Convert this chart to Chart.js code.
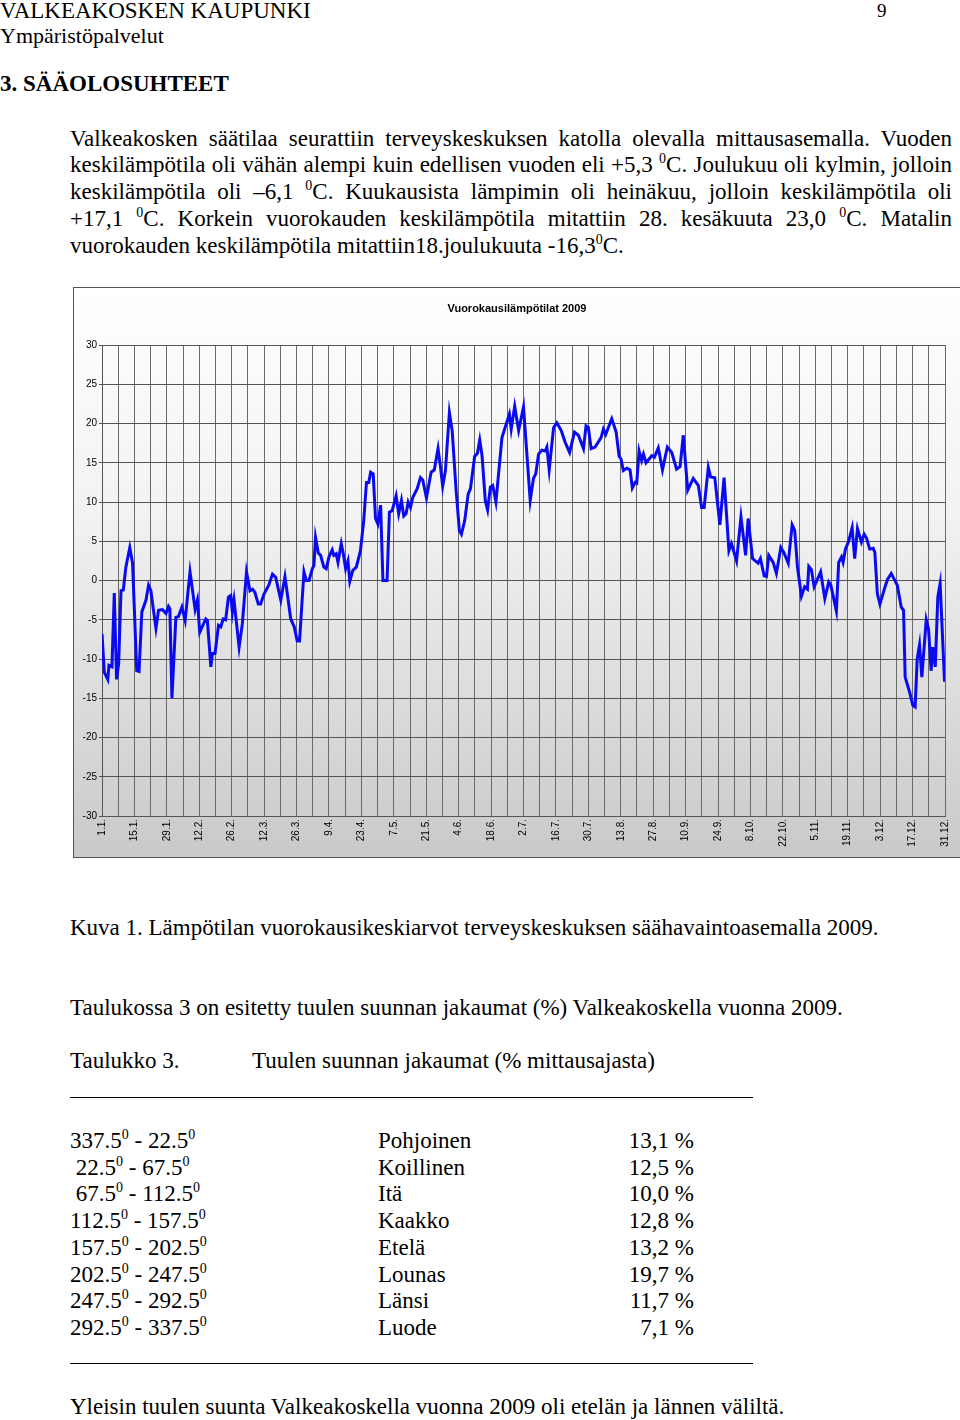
<!DOCTYPE html>
<html>
<head>
<meta charset="utf-8">
<script src="https://cdn.jsdelivr.net/npm/chart.js@4/dist/chart.umd.min.js"></script>
<style>
  body { margin: 0; width: 960px; height: 1420px; position: relative; background: #fff;
         font-family: "Liberation Serif", "Times New Roman", serif; font-size: 23px; color: #000; }
  .t { position: absolute; white-space: nowrap; line-height: 1; }
  sup { font-size: 14px; vertical-align: 9px; line-height: 0; }
  .pl { position: absolute; left: 70px; width: 882px; white-space: nowrap; line-height: 1; text-align: justify; text-align-last: justify; }
  #chartbox { position: absolute; left: 73px; top: 287px; width: 886px; height: 569px;
              border: 1px solid #555; background: linear-gradient(#ffffff 0%, #f2f2f2 40%, #c9c9c9 100%); }
  #ctitle { position: absolute; left: 0; width: 886px; top: 14px; text-align: center;
            font: bold 11px "Liberation Sans", Arial, sans-serif; }
  .rule { position: absolute; left: 70px; width: 683px; border-top: 1px solid #000; }
  .row span { position: absolute; }
</style>
</head>
<body>
<div class="t" style="left:0;top:-1px;font-size:23px">VALKEAKOSKEN KAUPUNKI</div>
<div class="t" style="left:877px;top:1px;font-size:19px">9</div>
<div class="t" style="left:0;top:25px;font-size:22px">Ympäristöpalvelut</div>
<div class="t" style="left:0;top:72px;font-size:23px;font-weight:bold">3. SÄÄOLOSUHTEET</div>

<div class="pl" style="top:127px">Valkeakosken säätilaa seurattiin terveyskeskuksen katolla olevalla mittausasemalla. Vuoden</div>
<div class="pl" style="top:153px">keskilämpötila oli vähän alempi kuin edellisen vuoden eli +5,3 <sup>0</sup>C. Joulukuu oli kylmin, jolloin</div>
<div class="pl" style="top:180px">keskilämpötila oli –6,1 <sup>0</sup>C. Kuukausista lämpimin oli heinäkuu, jolloin keskilämpötila oli</div>
<div class="pl" style="top:207px">+17,1 <sup>0</sup>C. Korkein vuorokauden keskilämpötila mitattiin 28. kesäkuuta 23,0 <sup>0</sup>C. Matalin</div>
<div class="t" style="left:70px;top:234px">vuorokauden keskilämpötila mitattiin18.joulukuuta -16,3<sup>0</sup>C.</div>

<div id="chartbox">
  <div id="ctitle">Vuorokausilämpötilat 2009</div>
  <canvas id="chart" width="886" height="569"></canvas>
</div>

<div class="t" style="left:70px;top:916px">Kuva 1. Lämpötilan vuorokausikeskiarvot terveyskeskuksen säähavaintoasemalla 2009.</div>
<div class="t" style="left:70px;top:996px">Taulukossa 3 on esitetty tuulen suunnan jakaumat (%) Valkeakoskella vuonna 2009.</div>
<div class="t" style="left:70px;top:1049px">Taulukko 3.</div>
<div class="t" style="left:252px;top:1049px">Tuulen suunnan jakaumat (% mittausajasta)</div>
<div class="rule" style="top:1097px"></div>
<div id="table"></div>
<div class="rule" style="top:1363px"></div>
<div class="t" style="left:70px;top:1395px">Yleisin tuulen suunta Valkeakoskella vuonna 2009 oli etelän ja lännen väliltä.</div>

<script>
// wind table
const sectors = ['337.5|22.5', ' 22.5|67.5', ' 67.5|112.5', '112.5|157.5', '157.5|202.5', '202.5|247.5', '247.5|292.5', '292.5|337.5'];
const directions = ['Pohjoinen', 'Koillinen', 'Itä', 'Kaakko', 'Etelä', 'Lounas', 'Länsi', 'Luode'];
const shares = ['13,1 %', '12,5 %', '10,0 %', '12,8 %', '13,2 %', '19,7 %', '11,7 %', '7,1 %'];

// daily mean temperatures, vertices (day of year from 1.1. = 0)
const days = [0, 1, 2.5, 3, 4.3, 5.3, 6.3, 7.2, 8.2, 9.2, 10.3, 12, 13.2, 15, 16, 17.2, 19, 20.1, 21.1, 23.3,
  24.4, 26.1, 27.6, 28.7, 29.3, 30.2, 31.9, 33, 34.5, 35.9, 38, 40.2, 41.2, 42.2, 44.8, 45.5, 47, 47.7, 48.8, 50.3,
  51.3, 52.3, 53.4, 54.6, 55.6, 56.3, 57, 59.2, 60.6, 62.4, 63.9, 65, 66, 67.5, 68.5, 70, 72, 73.6, 75, 77.2,
  79, 81.5, 83, 84.3, 85.3, 87.2, 88.2, 89.4, 90.8, 91.5, 92.2, 93.4, 94.4, 95.8, 96.8, 98, 99.4, 100.1, 101.1, 101.9,
  103.3, 104.2, 105.2, 106.2, 107, 108.3, 109.8, 111.6, 113, 114.2, 115.2, 116, 117.1, 118.1, 119.1, 120.3, 121.3, 123.1, 124.1, 125.3,
  127, 128.1, 129.3, 130.3, 131.3, 132.2, 133.2, 134.2, 136.1, 137.5, 138.5, 140.1, 142.1, 143.5, 145.1, 146.1, 147.1, 148.3, 150, 151.2,
  152.9, 154.3, 155.2, 156.6, 158.1, 159.1, 160.9, 162.1, 163.1, 164.1, 165.5, 166.5, 167.7, 168.7, 170.1, 172.7, 175.9, 176.7, 178.2, 179.9,
  182, 184.9, 186.3, 187.3, 188.5, 189.9, 191.4, 192.1, 193.1, 195, 196.4, 198.3, 200, 201.9, 204, 205.7, 207.9, 209, 210, 211.2,
  212.9, 215.5, 216.5, 217.5, 220.1, 222, 223.3, 224.1, 225.1, 226.6, 228, 229, 230.2, 230.9, 231.9, 233, 233.8, 234.9, 237.4, 238.5,
  240.2, 242, 244.1, 246, 248.1, 249.6, 251, 252.9, 255.3, 257.5, 258.9, 260, 261.8, 262.8, 264.6, 266.8, 268.6, 270.7, 271.8, 274,
  275.9, 277.9, 279, 280.9, 283.3, 284.3, 285.9, 286.9, 287.9, 289.8, 291.2, 293.1, 294.5, 296.3, 298, 299.1, 300.3, 302, 303.4, 304.6,
  305.2, 306.3, 307.5, 310.3, 312.1, 313.8, 314.7, 317.1, 318.1, 319.3, 320, 321, 322.4, 323.9, 325, 326.2, 327.9, 329.1, 330.1, 331.5,
  333, 333.7, 334.8, 335.9, 337.6, 339.1, 340.8, 343.4, 345.1, 346.1, 346.8, 348.7, 350.1, 351.1, 352, 353, 354, 355.9, 356.9, 358,
  358.7, 359.8, 360.9, 361.9, 363.8];
const temps = [-6.8, -11.7, -12.6, -10.8, -11, -1.6, -12.6, -10.6, -1.3, -1.2, 1.7, 4.2, 2.2, -11.5, -11.6, -4, -2.5, -0.6, -1.3, -6.1,
  -3.8, -3.7, -4.2, -3.3, -3.6, -15, -4.7, -4.6, -3.4, -5.1, 1.1, -3.7, -2.5, -6.6, -4.9, -5.1, -11, -9.3, -9.3, -5.7,
  -5.9, -4.9, -5, -2.1, -1.9, -4, -2.5, -8.5, -5.5, 1.1, -1.3, -1.1, -1.5, -3, -3, -1.7, -0.6, 0.8, 0.4, -2.5,
  0.5, -4.9, -5.9, -7.7, -7.7, 1.1, 0, 0, 1.5, 1.9, 5.5, 3.5, 3.2, 1.7, 1.5, 3, 3.9, 3.2, 3.4, 2.3,
  4.7, 3.4, 1.5, 2.5, -0.1, 1.3, 1.7, 3.8, 7.6, 12.5, 12.5, 13.8, 13.6, 7.9, 7.2, 9.6, 0, 0, 8.7, 8.9,
  10.8, 8.5, 10.2, 8.2, 8.5, 10, 9.3, 10.6, 11.7, 13.1, 12.8, 10.5, 13.8, 14.1, 16.8, 14.6, 12, 14, 21.4, 19.1,
  11.5, 6.4, 5.9, 7.6, 11, 11.7, 15.8, 16.2, 17.9, 15.9, 10.2, 9, 11.9, 12.1, 10, 18.2, 21.2, 19.3, 22.2, 19.1,
  22.1, 10.2, 13, 13.6, 16.1, 16.6, 16.5, 17, 14.1, 19.5, 20.1, 19.1, 17.6, 16.3, 18.9, 18.5, 16.8, 19.7, 19.5, 16.8,
  17, 18.2, 19.3, 18.6, 20.6, 18.9, 15.8, 15.5, 14, 14.3, 14.1, 11.8, 12.5, 12.4, 16.5, 15.3, 16.1, 15, 15.9, 15.7,
  16.9, 14.1, 17, 16.3, 14.2, 14.5, 18.5, 11.5, 13, 12.1, 9.3, 9.3, 14.4, 13.2, 13.1, 7.1, 13.1, 3.8, 4.7, 2.5,
  8.1, 3.2, 7.9, 2.8, 2.2, 2.8, 0.6, 0.5, 3.2, 2.3, 0.9, 4.2, 3.5, 2.2, 7.1, 6.4, 1.7, -2, -0.8, -1.1,
  1.8, 1.4, -0.8, 1.1, -2.3, -0.2, -0.6, -3.9, 2.3, 3, 2.3, 4, 5, 6.7, 2.8, 6.6, 4.9, 5.9, 5.4, 4,
  4.1, 3.6, -1.7, -3, -1.3, 0.1, 0.9, -0.6, -3.4, -3.8, -12.3, -14.2, -15.9, -16.1, -10, -8.2, -12.3, -5, -6.2, -11.5,
  -8.5, -11, -2.1, -0.4, -12.9];
const tickLabels = ['1.1.', '15.1.', '29.1.', '12.2.', '26.2.', '12.3.', '26.3.', '9.4.', '23.4.', '7.5.', '21.5.', '4.6.', '18.6.', '2.7.',
  '16.7.', '30.7.', '13.8.', '27.8.', '10.9.', '24.9.', '8.10.', '22.10.', '5.11.', '19.11.', '3.12.', '17.12.', '31.12.'];

const table = document.getElementById('table');
sectors.forEach((s, i) => {
  const [a, b] = s.split('|');
  const top = 1129 + i * 26.7;
  const row = document.createElement('div');
  row.className = 'row';
  row.innerHTML = `<span class="t" style="left:70px;top:${top}px;white-space:pre">${a}<sup>0</sup> - ${b}<sup>0</sup></span>` +
    `<span class="t" style="left:378px;top:${top}px">${directions[i]}</span>` +
    `<span class="t" style="left:560px;width:134px;text-align:right;top:${top}px">${shares[i]}</span>`;
  table.appendChild(row);
});

const points = days.map((d, i) => ({ x: d, y: temps[i] }));
const smallFont = { family: '"Liberation Sans", Arial, sans-serif', size: 10 };

new Chart(document.getElementById('chart'), {
  type: 'line',
  data: { datasets: [{ data: points, borderColor: '#0a0af0', borderWidth: 3, pointRadius: 0, tension: 0, fill: false }] },
  options: {
    responsive: false,
    animation: false,
    layout: { padding: { top: 57, right: 13, left: 0, bottom: 0 } },
    plugins: { legend: { display: false }, tooltip: { enabled: false } },
    scales: {
      x: {
        type: 'linear', min: 0, max: 364,
        afterFit: s => { s.height = 41; },
        grid: { color: '#6a6a6a', lineWidth: 1, drawTicks: false },
        border: { color: '#555' },
        ticks: {
          stepSize: 7, autoSkip: false, maxRotation: 90, minRotation: 90, color: '#000', font: smallFont, padding: 3,
          callback: v => (v % 14 === 0 ? tickLabels[v / 14] : '')
        }
      },
      y: {
        min: -30, max: 30,
        afterFit: s => { s.width = 28; },
        grid: { color: '#555', lineWidth: 1, tickLength: 3 },
        border: { color: '#555' },
        ticks: { stepSize: 5, color: '#000', font: smallFont, padding: 2 }
      }
    }
  }
});
</script>
</body>
</html>
